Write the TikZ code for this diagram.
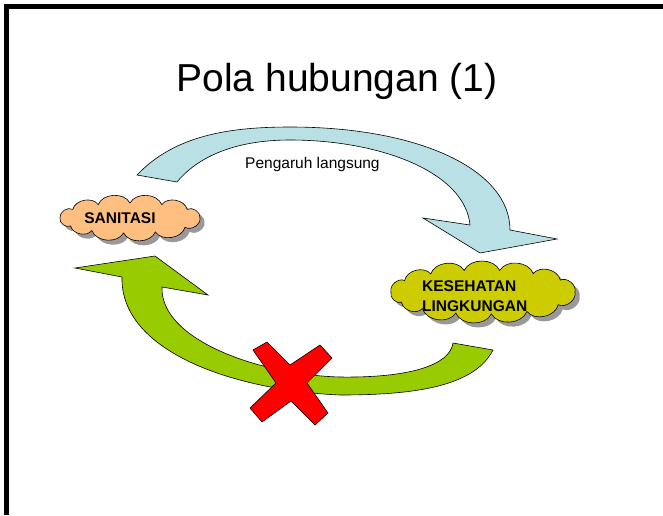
\documentclass[tikz,border=0pt]{standalone}
\usepackage{fontspec}
\setmainfont{Liberation Sans}
\definecolor{arrowblue}{HTML}{B9E0E4}
\definecolor{arrowgreen}{HTML}{99CC00}
\definecolor{cloudorange}{HTML}{FFBF80}
\definecolor{cloudolive}{HTML}{CCCC00}
\definecolor{crossred}{HTML}{FF0000}
\newcommand\sancloudpath{(60,218) to (72.8,209.4) to (98.2,204.6) to (130,203) to (161.8,204.6) to (187.2,209.4) to (200,218) to (185.1,227.2) to (155.4,231.9) to (123.6,232.9) to (91.8,230.5) to (70.6,225.9) to (60,218) -- cycle}
\newcommand\kescloudpath{(391,292) to (404.6,280.5) to (430.7,273.9) to (464.2,270.4) to (499.7,270.4) to (533.2,273.6) to (560.3,280.1) to (575,292) to (558.2,304.7) to (526.9,311.4) to (491.4,313.9) to (455.8,313.1) to (422.4,308.6) to (401.5,302.2) to (391,292) -- cycle}
\tikzset{
  blockarrow/.style={draw=black, line width=0.6pt, line join=miter},
  puffy/.style={bend left=65, line width=0.6pt, draw=black},
  cloudshadow/.style={bend left=65, fill=black!40},
  cloudtext/.style={font=\fontsize{15.5}{20}\selectfont\bfseries, inner sep=0pt, align=left},
}
\begin{document}
\begin{tikzpicture}[x=1pt,y=-1pt]
\useasboundingbox (0,0) rectangle (663,515);
% frame
\draw[line width=5pt] (6.5,515) -- (6.5,6.5) -- (663,6.5);
% title
\node[font=\fontsize{39}{44}\selectfont, anchor=base] (title) at (337,91) {Pola hubungan (1)};
% blue arrow
\draw[blockarrow, fill=arrowblue] (137,175) .. controls (175,135) and (230,127) .. (290,127)
  .. controls (420,127) and (510,170) .. (510,230)
  -- (557,239) -- (480,253) -- (423,218) -- (470,225)
  .. controls (465,172) and (380,140) .. (290,140)
  .. controls (230,140) and (195,160) .. (177,182) -- cycle;
\node[font=\fontsize{15.5}{18}\selectfont, anchor=base west, inner sep=0pt] (lbl) at (245,168) {Pengaruh langsung};
% clouds
\fill[cloudshadow, shift={(4.5,4.5)}] \sancloudpath;
\filldraw[puffy, fill=cloudorange] \sancloudpath;
\node[cloudtext, anchor=base] (santext) at (120,223) {SANITASI};
\fill[cloudshadow, shift={(4.5,4.5)}] \kescloudpath;
\filldraw[puffy, fill=cloudolive] \kescloudpath;
\node[cloudtext, anchor=base west] (kestext1) at (422,291) {KESEHATAN};
\node[cloudtext, anchor=base west] (kestext2) at (422,311) {LINGKUNGAN};
% green arrow
\draw[blockarrow, fill=arrowgreen] (493,350) .. controls (475,385) and (420,395) .. (340,395)
  .. controls (230,390) and (120,350) .. (122,277)
  -- (75,268) -- (155,256) -- (208,295) -- (162,287)
  .. controls (160,340) and (260,375) .. (340,377)
  .. controls (410,378) and (450,365) .. (453,343) -- cycle;
% red cross
\draw[blockarrow, fill=crossred] (253,350) -- (267,342) -- (290,365) -- (320,345) -- (332,358)
  -- (307,383) -- (328,413) -- (315,425) -- (291,401) -- (262,422) -- (250,408) -- (276,383) -- cycle;
\end{tikzpicture}
\end{document}
